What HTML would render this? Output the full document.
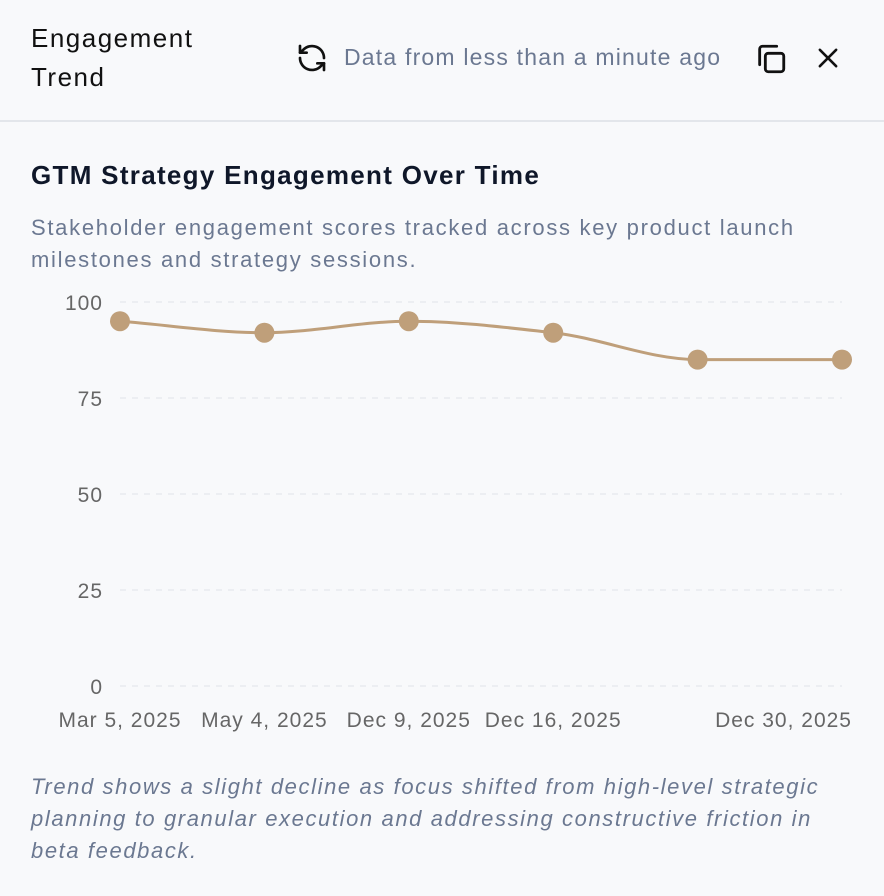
<!DOCTYPE html>
<html><head><meta charset="utf-8"><style>
html,body{margin:0;padding:0;width:884px;height:896px;background:#f8f9fb;overflow:hidden;font-family:"Liberation Sans","DejaVu Sans",sans-serif}
.hdr{position:absolute;left:0;top:0;width:884px;height:122px;border-bottom:2px solid #e3e6eb;box-sizing:border-box}
.t{position:absolute;left:31px;top:19px;font-size:26px;line-height:39px;color:#111;letter-spacing:1.5px}
.upd{position:absolute;left:344px;top:44px;font-size:23px;color:#6b7891;letter-spacing:1.2px}
.title{position:absolute;left:31px;top:160px;font-size:26px;font-weight:bold;color:#0f1729;letter-spacing:1.3px}
.desc{position:absolute;left:31px;top:212px;font-size:22px;line-height:32px;color:#6b7891;width:820px;letter-spacing:1.7px}
.foot{position:absolute;left:31px;top:771px;font-size:22px;line-height:32px;color:#6b7891;font-style:italic;width:805px;letter-spacing:1.6px}
svg{position:absolute;left:0;top:0}
</style></head><body>
<div class="hdr">
<div class="t">Engagement<br>Trend</div>
<svg style="left:296px;top:42px" width="32" height="32" viewBox="0 0 24 24" fill="none" stroke="#111" stroke-width="2" stroke-linecap="round" stroke-linejoin="round"><path d="M21 12a9 9 0 0 0-15.5-6.2L3 8"/><path d="M3 3v5h5"/><path d="M3 12a9 9 0 0 0 15.5 6.2L21 16"/><path d="M16 16h5v5"/></svg>
<div class="upd">Data from less than a minute ago</div>
<svg style="left:754px;top:42px" width="34" height="34" viewBox="0 0 24 24" fill="none" stroke="#111" stroke-width="2" stroke-linecap="round" stroke-linejoin="round"><rect x="8" y="8" width="13" height="13" rx="2"/><path d="M4 16V5a2 2 0 0 1 2-2h10"/></svg>
<svg style="left:814px;top:44px" width="28" height="28" viewBox="0 0 24 24" fill="none" stroke="#111" stroke-width="2.2" stroke-linecap="round"><path d="M5 5l14 14M19 5L5 19"/></svg>
</div>
<div class="title">GTM Strategy Engagement Over Time</div>
<div class="desc">Stakeholder engagement scores tracked across key product launch milestones and strategy sessions.</div>
<svg id="chart" width="884" height="760"></svg>
<div class="foot">Trend shows a slight decline as focus shifted from high-level strategic planning to granular execution and addressing constructive friction in beta feedback.</div>
<script>
const categories=["Mar 5, 2025","May 4, 2025","Dec 9, 2025","Dec 16, 2025","Dec 23, 2025","Dec 30, 2025"];
const shownLabels=[true,true,true,true,false,true];
const values=[95,92,95,92,85,85];
const yTicks=[0,25,50,75,100];
const NS="http://www.w3.org/2000/svg";
const svg=document.getElementById('chart');
const x0=120,x1=842,yTop=302,yBot=686;
const xs=i=>x0+(x1-x0)*i/(categories.length-1);
const ys=v=>yBot-(yBot-yTop)*v/100;
function mk(t,a){const e=document.createElementNS(NS,t);for(const k in a)e.setAttribute(k,a[k]);svg.appendChild(e);return e;}
yTicks.forEach(t=>{
 const g=mk('line',{x1:120,x2:842,y1:ys(t),y2:ys(t),stroke:'#e8ebf0','stroke-dasharray':'6 6','stroke-width':1.5});
 
 
 const l=mk('text',{x:103,y:ys(t)+8,'text-anchor':'end','font-size':21,fill:'#666','letter-spacing':1});
 l.textContent=t;
 
 
});
categories.forEach((c,i)=>{
 if(!shownLabels[i])return;
 let anchor='middle',x=xs(i);
 if(i===categories.length-1){anchor='end';x=852;}
 const l=mk('text',{x:x,y:727,'text-anchor':anchor,'font-size':21,fill:'#666','letter-spacing':1});
 l.textContent=c;
 
 
});
const P=values.map((v,i)=>[xs(i),ys(v)]);
const n=P.length,d=[],m=[];
for(let i=0;i<n-1;i++)d.push((P[i+1][1]-P[i][1])/(P[i+1][0]-P[i][0]));
for(let i=0;i<n;i++){
 if(i===0)m.push(d[0]);else if(i===n-1)m.push(d[n-2]);
 else m.push(d[i-1]*d[i]<=0?0:2/(1/d[i-1]+1/d[i]));
}
let path=`M${P[0][0]},${P[0][1]}`;
for(let i=0;i<n-1;i++){const h=(P[i+1][0]-P[i][0])/3;
 path+=` C${P[i][0]+h},${P[i][1]+m[i]*h} ${P[i+1][0]-h},${P[i+1][1]-m[i+1]*h} ${P[i+1][0]},${P[i+1][1]}`;}
const ln=mk('path',{d:path,fill:'none',stroke:'#bf9f7a','stroke-width':3});


P.forEach(p=>{
 const c=mk('circle',{cx:p[0],cy:p[1],r:10,fill:'#bf9f7a'});
 
 
});
</script>
</body></html>
